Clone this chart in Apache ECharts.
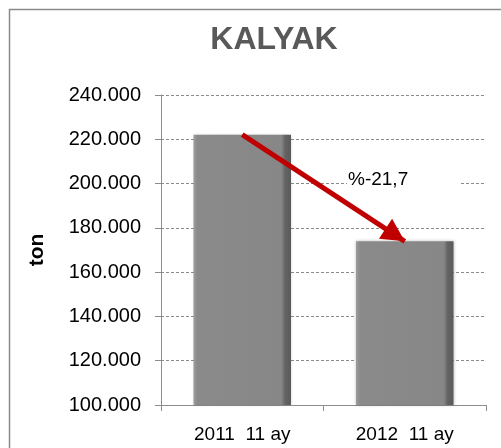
<!DOCTYPE html>
<html>
<head>
<meta charset="utf-8">
<script src="https://cdn.jsdelivr.net/npm/echarts@6/dist/echarts.min.js"></script>
<style>html,body{margin:0;padding:0;background:#fff}#c{width:501px;height:448px}</style>
</head>
<body>
<div id="c"></div>
<script>
var categories = ['2011  11 ay', '2012  11 ay'];
var values = [222100, 173900];
var yTicks = [100000, 120000, 140000, 160000, 180000, 200000, 220000, 240000];
var changeLabel = '%-21,7';
var titleText = 'KALYAK';
var yName = 'ton';

var chart = echarts.init(document.getElementById('c'), null, {renderer: 'canvas'});
var FONT = '"Liberation Sans", Arial, sans-serif';
var barGrad = new echarts.graphic.LinearGradient(0, 0, 1, 0, [
  {offset: 0, color: '#9c9c9c'},
  {offset: 0.04, color: '#8a8a8a'},
  {offset: 0.9, color: '#878787'},
  {offset: 0.94, color: '#636363'},
  {offset: 1, color: '#5a5a5a'}
]);
chart.setOption({
  animation: false,
  backgroundColor: '#fff',
  title: {
    text: titleText, left: 269, top: 19, textAlign: 'center',
    textStyle: {fontFamily: FONT, fontSize: 32, fontWeight: 'bold', color: '#595959'}
  },
  grid: {left: 161, right: 15, top: 95, bottom: 43},
  xAxis: {
    type: 'category', data: categories,
    axisLine: {lineStyle: {color: '#8c8c8c', width: 1}},
    axisTick: {show: true, length: 6, lineStyle: {color: '#8c8c8c'}},
    axisLabel: {fontFamily: FONT, fontSize: 19, color: '#000', margin: 20}
  },
  yAxis: {
    type: 'value', min: 100000, max: 240000, interval: 20000,
    name: yName, nameLocation: 'middle', nameGap: 113, nameRotate: 90,
    nameTextStyle: {fontFamily: FONT, fontSize: 21, fontWeight: 'bold', color: '#000'},
    axisLine: {show: true, lineStyle: {color: '#8c8c8c', width: 1}},
    axisTick: {show: true, length: 6, lineStyle: {color: '#8c8c8c'}},
    axisLabel: {fontFamily: FONT, fontSize: 20, color: '#000', margin: 20,
      formatter: function (v) { return yTicks.indexOf(v) >= 0 ? (v / 1000).toFixed(3) : ''; }},
    splitLine: {show: true, lineStyle: {color: '#8a8a8a', type: [3, 2], width: 1}}
  },
  graphic: [
    {type: 'rect', left: 7, top: 7, shape: {width: 620, height: 620},
     style: {fill: 'none', stroke: '#8a8a8a', lineWidth: 1.5}, z: 100},
    {type: 'text', left: 347, top: 170,
     style: {text: changeLabel, font: '19px ' + FONT, fill: '#000',
       backgroundColor: '#fff', padding: [0, 52, 0, 1]}, z: 50}
  ],
  series: [{
    type: 'bar', data: values, barWidth: '60%',
    itemStyle: {color: barGrad, shadowColor: 'rgba(0,0,0,0.25)', shadowBlur: 3},
    emphasis: {disabled: true},
    markLine: {
      silent: true,
      symbol: ['none', 'path://M12,-23L12,-23M12,0L24,23L0,23Z'],
      symbolSize: [24, 46],
      lineStyle: {color: '#C00000', width: 5, type: 'solid'},
      label: {show: false},
      data: [[{coord: [categories[0], values[0]]}, {coord: [categories[1], values[1]]}]]
    }
  }]
});
</script>
</body>
</html>
